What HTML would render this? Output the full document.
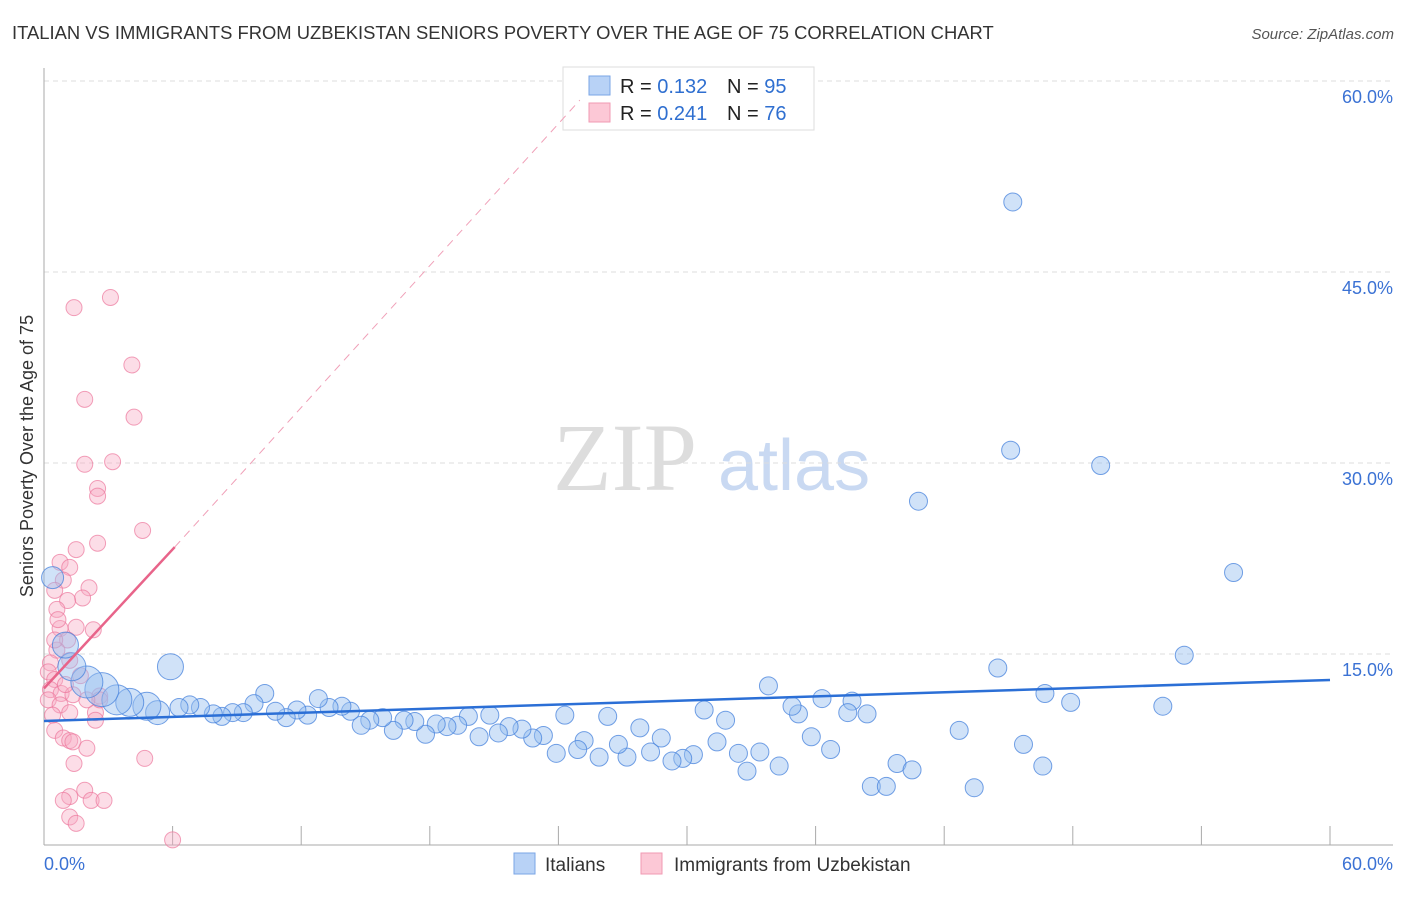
<!DOCTYPE html>
<html><head><meta charset="utf-8"><style>
body{margin:0;background:#fff;font-family:"Liberation Sans",sans-serif;}
svg text{font-family:"Liberation Sans",sans-serif;}
</style></head><body>
<svg id="chart" width="1406" height="892" viewBox="0 0 1406 892" xmlns="http://www.w3.org/2000/svg">
<text x="12" y="39" font-size="18.4" fill="#333">ITALIAN VS IMMIGRANTS FROM UZBEKISTAN SENIORS POVERTY OVER THE AGE OF 75 CORRELATION CHART</text>
<text x="1394" y="39" font-size="15" fill="#555" font-style="italic" text-anchor="end">Source: ZipAtlas.com</text>
<g>
<text x="553" y="490" font-size="96" fill="#ddd" font-family="Liberation Serif" style="font-family:'Liberation Serif',serif">ZIP</text>
<text x="718" y="490" font-size="72" fill="#c9d9f2">atlas</text>
</g>
<g id="grid"></g>
<g id="axes"></g>
<g id="trend"></g>
<g id="pts"></g>
<text transform="translate(33,456) rotate(-90)" font-size="18" fill="#333" text-anchor="middle">Seniors Poverty Over the Age of 75</text>
<g>
<rect x="563" y="67" width="251" height="63" fill="#fff" stroke="#ddd"/>
<rect x="589" y="76" width="21" height="19" fill="#b8d2f6" stroke="#7aa5e6"/>
<rect x="589" y="103" width="21" height="19" fill="#fcc8d6" stroke="#f09ab3"/>
<text x="620" y="93" font-size="20" fill="#222">R = <tspan fill="#2f6fd0">0.132</tspan></text>
<text x="727" y="93" font-size="20" fill="#222">N = <tspan fill="#2f6fd0">95</tspan></text>
<text x="620" y="120" font-size="20" fill="#222">R = <tspan fill="#2f6fd0">0.241</tspan></text>
<text x="727" y="120" font-size="20" fill="#222">N = <tspan fill="#2f6fd0">76</tspan></text>
</g>
<g>
<rect x="514" y="853" width="21" height="21" fill="#b8d2f6" stroke="#7aa5e6"/>
<text x="545" y="871" font-size="19" fill="#333">Italians</text>
<rect x="641" y="853" width="21" height="21" fill="#fcc8d6" stroke="#f09ab3"/>
<text x="674" y="871" font-size="19" fill="#333">Immigrants from Uzbekistan</text>
</g>
</svg>
<script>
const yTicks=[15,30,45,60];
const yTickLabels=["15.0%","30.0%","45.0%","60.0%"];
const xTicks=[6,12,18,24,30,36,42,48,54,60];
const blueX=[45.2,45.1,49.3,40.8,55.5,53.2,44.5,46.7,47.9,52.2,42.7,45.7,46.6,43.4,38.6,39.3,39.8,40.5,38.4,37.7,37.5,36.3,35.8,36.7,35.2,34.9,33.8,34.3,33.4,32.8,32.4,31.8,30.8,31.4,30.3,29.8,29.3,28.8,28.3,27.8,27.2,26.8,26.3,25.9,25.2,24.9,24.3,23.9,23.3,22.8,22.3,21.7,21.2,20.8,20.3,19.8,19.3,18.8,18.3,17.8,17.3,16.8,16.3,15.8,15.2,14.8,14.3,13.9,13.3,12.8,12.3,11.8,11.3,10.8,10.3,9.8,9.3,8.8,8.3,7.9,7.3,6.8,6.3,5.9,5.3,4.8,4.0,3.4,2.7,2.0,1.3,1.0,0.4];
const blueY=[50.5,31.0,29.8,27.0,21.4,14.9,13.9,11.9,11.2,10.9,9.0,7.9,6.2,4.5,4.6,4.6,6.4,5.9,10.3,11.3,10.4,11.5,8.5,7.5,10.3,10.9,12.5,6.2,7.3,5.8,7.2,9.8,10.6,8.1,7.1,6.8,6.6,8.4,7.3,9.2,6.9,7.9,10.1,6.9,8.2,7.5,10.2,7.2,8.6,8.4,9.1,9.3,8.8,10.2,8.5,10.1,9.4,9.3,9.5,8.7,9.7,9.8,9.0,10.0,9.8,9.4,10.5,10.9,10.8,11.5,10.2,10.6,10.0,10.5,11.9,11.1,10.4,10.4,10.1,10.3,10.8,11.0,10.8,14.0,10.4,10.9,11.2,11.4,12.2,12.8,14.0,15.7,21.0];
const blueR=[9,9,9,9,9,9,9,9,9,9,9,9,9,9,9,9,9,9,9,9,9,9,9,9,9,9,9,9,9,9,9,9,9,9,9,9,9,9,9,9,9,9,9,9,9,9,9,9,9,9,9,9,9,9,9,9,9,9,9,9,9,9,9,9,9,9,9,9,9,9,9,9,9,9,9,9,9,9,9,9,9,9,9,13,12,14,14,15,17,16,14,13,11];
const pinkX=[3.1,1.4,4.1,1.9,4.2,3.2,1.9,2.5,2.5,4.6,2.5,1.5,0.75,1.2,0.9,2.1,0.5,1.8,1.1,0.6,2.3,1.5,0.75,1.1,0.6,1.2,0.3,0.2,0.5,0.3,0.8,1.35,2.6,0.2,0.75,1.2,0.4,2.4,2.6,2.4,0.5,0.9,1.2,1.35,2.0,1.4,4.7,1.9,1.2,0.9,2.2,2.8,1.2,1.5,6.0,0.5,0.65,1.0,1.7,2.0];
const pinkY=[43.0,42.2,37.7,35.0,33.6,30.1,29.9,28.0,27.4,24.7,23.7,23.2,22.2,21.8,20.8,20.2,20.0,19.4,19.2,18.5,16.9,17.1,17.0,16.1,15.3,14.5,14.3,13.6,13.0,12.2,11.9,11.8,11.7,11.4,11.0,10.4,10.2,10.4,11.4,9.8,9.0,8.4,8.2,8.1,7.6,6.4,6.8,4.3,3.8,3.5,3.5,3.5,2.2,1.7,0.4,16.1,17.7,12.6,13.3,11.4];
const blueTrend=[[0,9.74],[60,12.96]];
const pinkTrend=[[0,12.3],[6.1,23.4]];
const pinkDash=[[6.1,23.4],[25,58.5]];

const X0=44,X1=1330,Y0=845,Y1=81;
const sx=v=>X0+(X1-X0)*v/60;
const sy=v=>Y0-(Y0-Y1)*v/60;
const NS="http://www.w3.org/2000/svg";
function mk(tag,parent,attrs){const e=document.createElementNS(NS,tag);for(const k in attrs)e.setAttribute(k,attrs[k]);document.getElementById(parent).appendChild(e);return e;}

yTicks.forEach((t,i)=>{
  const g=mk('line','grid',{x1:X0,x2:1393,y1:sy(t),y2:sy(t),stroke:'#ddd','stroke-dasharray':'5,4'});
  
  
  const l=mk('text','axes',{x:1393,y:sy(t)+22,'font-size':18,fill:'#3b72d4','text-anchor':'end'});
  l.textContent=yTickLabels[i];
  
  
});
let a=mk('line','axes',{x1:X0,x2:X0,y1:68,y2:Y0,stroke:'#aaa'});


a=mk('line','axes',{x1:X0,x2:1393,y1:Y0,y2:Y0,stroke:'#aaa'});


xTicks.forEach(t=>{
  const k=mk('line','axes',{x1:sx(t),x2:sx(t),y1:826,y2:Y0,stroke:'#aaa'});
  
  
});
let xl=mk('text','axes',{x:44,y:870,'font-size':18,fill:'#3b72d4'});xl.textContent='0.0%';


xl=mk('text','axes',{x:1393,y:870,'font-size':18,fill:'#3b72d4','text-anchor':'end'});xl.textContent='60.0%';



pinkX.forEach((v,i)=>{
  const c=mk('circle','pts',{cx:sx(v),cy:sy(pinkY[i]),r:8,fill:'rgba(248,170,194,0.4)',stroke:'rgba(236,120,156,0.7)','stroke-width':1});
  
  
});
blueX.forEach((v,i)=>{
  const c=mk('circle','pts',{cx:sx(v),cy:sy(blueY[i]),r:blueR[i],fill:'rgba(150,190,240,0.45)',stroke:'rgba(70,130,220,0.75)','stroke-width':1});
  
  
});
let t=mk('line','trend',{x1:sx(blueTrend[0][0]),y1:sy(blueTrend[0][1]),x2:sx(blueTrend[1][0]),y2:sy(blueTrend[1][1]),stroke:'#2b6fd6','stroke-width':2.5});


t=mk('line','trend',{x1:sx(pinkDash[0][0]),y1:sy(pinkDash[0][1]),x2:sx(pinkDash[1][0]),y2:sy(pinkDash[1][1]),stroke:'#f0a0b8','stroke-width':1,'stroke-dasharray':'8,6'});


t=mk('line','trend',{x1:sx(pinkTrend[0][0]),y1:sy(pinkTrend[0][1]),x2:sx(pinkTrend[1][0]),y2:sy(pinkTrend[1][1]),stroke:'#e8648a','stroke-width':2.5});


document.getElementById('trend').parentNode.appendChild(document.getElementById('trend'));
</script>
</body></html>
